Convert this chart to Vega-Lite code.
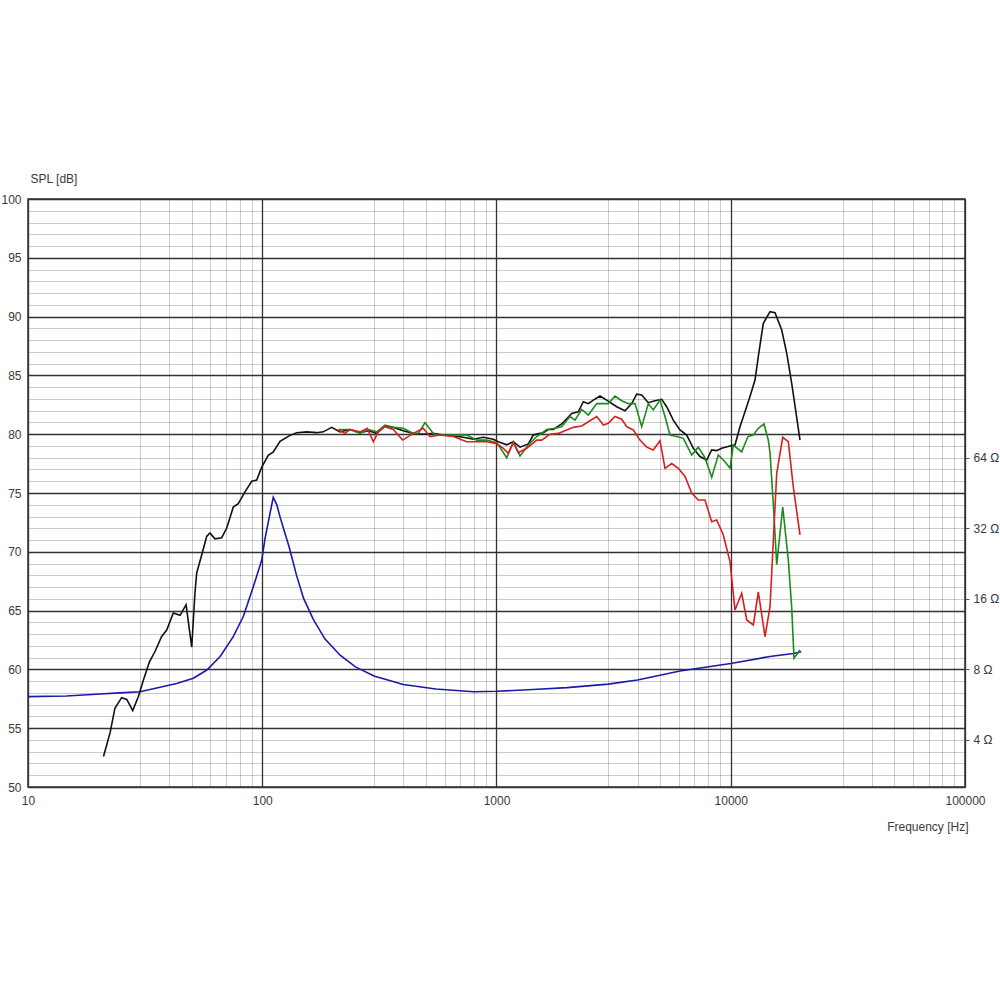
{
  "$schema": "https://vega.github.io/schema/vega-lite/v6.json",
  "autosize": {"type": "none"},
  "padding": {"left": 28, "top": 199, "right": 35, "bottom": 213},
  "width": 937,
  "height": 588,
  "background": "white",
  "config": {
    "view": {"stroke": "#333333", "strokeWidth": 1.5},
    "axis": {"labelFont": "Liberation Sans", "labelFontSize": 12, "labelColor": "#3a3a3a", "titleFont": "Liberation Sans", "titleFontSize": 12, "titleFontWeight": "normal", "titleColor": "#3a3a3a"}
  },
  "datasets": {
    "spl": [
      {"s":"0°","f":21,"db":52.6},{"s":"0°","f":22.4,"db":54.6},{"s":"0°","f":23.5,"db":56.7},{"s":"0°","f":25.1,"db":57.6},{"s":"0°","f":26.4,"db":57.45},{"s":"0°","f":28,"db":56.5},{"s":"0°","f":29.6,"db":57.7},{"s":"0°","f":31.1,"db":59.1},{"s":"0°","f":33,"db":60.65},{"s":"0°","f":34.8,"db":61.5},{"s":"0°","f":37.2,"db":62.8},{"s":"0°","f":39.1,"db":63.35},{"s":"0°","f":41.7,"db":64.8},{"s":"0°","f":44.6,"db":64.6},{"s":"0°","f":47.3,"db":65.5},{"s":"0°","f":50,"db":61.9},{"s":"0°","f":51.6,"db":66.5},{"s":"0°","f":52.5,"db":68.2},{"s":"0°","f":55.1,"db":69.7},{"s":"0°","f":57.9,"db":71.3},{"s":"0°","f":59.8,"db":71.6},{"s":"0°","f":62.8,"db":71.1},{"s":"0°","f":67.1,"db":71.2},{"s":"0°","f":70.5,"db":72},{"s":"0°","f":75.2,"db":73.8},{"s":"0°","f":79,"db":74.1},{"s":"0°","f":84.4,"db":75.1},{"s":"0°","f":90.2,"db":76},{"s":"0°","f":94.7,"db":76.1},{"s":"0°","f":99.5,"db":77.2},{"s":"0°","f":106.1,"db":78.2},{"s":"0°","f":111.5,"db":78.5},{"s":"0°","f":119.1,"db":79.4},{"s":"0°","f":131.4,"db":79.9},{"s":"0°","f":140.3,"db":80.13},{"s":"0°","f":154.8,"db":80.2},{"s":"0°","f":170.8,"db":80.13},{"s":"0°","f":182.2,"db":80.2},{"s":"0°","f":197.9,"db":80.58},{"s":"0°","f":214.7,"db":80.2},{"s":"0°","f":236.9,"db":80.4},{"s":"0°","f":261.4,"db":80.13},{"s":"0°","f":283.6,"db":80.3},{"s":"0°","f":308,"db":80.07},{"s":"0°","f":334.2,"db":80.7},{"s":"0°","f":362.6,"db":80.58},{"s":"0°","f":400.1,"db":80.3},{"s":"0°","f":441.5,"db":80.07},{"s":"0°","f":487,"db":80},{"s":"0°","f":537.3,"db":80.07},{"s":"0°","f":592.9,"db":79.93},{"s":"0°","f":654.2,"db":79.85},{"s":"0°","f":721.8,"db":79.74},{"s":"0°","f":796.2,"db":79.57},{"s":"0°","f":878.5,"db":79.74},{"s":"0°","f":969,"db":79.57},{"s":"0°","f":1018,"db":79.36},{"s":"0°","f":1106,"db":79.1},{"s":"0°","f":1180,"db":79.36},{"s":"0°","f":1260,"db":78.9},{"s":"0°","f":1367,"db":79.17},{"s":"0°","f":1436,"db":79.93},{"s":"0°","f":1534,"db":80.07},{"s":"0°","f":1585,"db":80.13},{"s":"0°","f":1664,"db":80.4},{"s":"0°","f":1748,"db":80.4},{"s":"0°","f":1898,"db":80.87},{"s":"0°","f":2094,"db":81.77},{"s":"0°","f":2235,"db":81.9},{"s":"0°","f":2348,"db":82.76},{"s":"0°","f":2466,"db":82.6},{"s":"0°","f":2590,"db":82.9},{"s":"0°","f":2766,"db":83.25},{"s":"0°","f":2954,"db":82.9},{"s":"0°","f":3259,"db":82.34},{"s":"0°","f":3537,"db":82},{"s":"0°","f":3777,"db":82.6},{"s":"0°","f":3967,"db":83.4},{"s":"0°","f":4168,"db":83.33},{"s":"0°","f":4446,"db":82.68},{"s":"0°","f":4750,"db":82.85},{"s":"0°","f":5073,"db":82.97},{"s":"0°","f":5327,"db":82.34},{"s":"0°","f":5684,"db":81.2},{"s":"0°","f":6071,"db":80.36},{"s":"0°","f":6484,"db":79.93},{"s":"0°","f":6921,"db":78.8},{"s":"0°","f":7391,"db":78.1},{"s":"0°","f":7895,"db":77.8},{"s":"0°","f":8291,"db":78.66},{"s":"0°","f":8709,"db":78.6},{"s":"0°","f":9147,"db":78.8},{"s":"0°","f":9926,"db":79},{"s":"0°","f":10426,"db":79.08},{"s":"0°","f":10951,"db":80.64},{"s":"0°","f":11502,"db":81.9},{"s":"0°","f":12082,"db":83.2},{"s":"0°","f":12690,"db":84.6},{"s":"0°","f":13110,"db":86.6},{"s":"0°","f":13772,"db":89.43},{"s":"0°","f":14712,"db":90.42},{"s":"0°","f":15452,"db":90.33},{"s":"0°","f":16504,"db":88.86},{"s":"0°","f":17339,"db":86.88},{"s":"0°","f":18207,"db":84.33},{"s":"0°","f":19754,"db":79.5},
      {"s":"30°","f":211.2,"db":80.4},{"s":"30°","f":236.9,"db":80.4},{"s":"30°","f":261.4,"db":80.07},{"s":"30°","f":283.6,"db":80.4},{"s":"30°","f":308,"db":80.2},{"s":"30°","f":334.2,"db":80.78},{"s":"30°","f":362.6,"db":80.58},{"s":"30°","f":400.1,"db":80.5},{"s":"30°","f":441.5,"db":80.07},{"s":"30°","f":463.7,"db":80.07},{"s":"30°","f":495,"db":80.98},{"s":"30°","f":537.3,"db":80.07},{"s":"30°","f":555.5,"db":79.93},{"s":"30°","f":613,"db":79.93},{"s":"30°","f":676,"db":79.93},{"s":"30°","f":746,"db":79.93},{"s":"30°","f":823,"db":79.5},{"s":"30°","f":908,"db":79.5},{"s":"30°","f":1002,"db":79.28},{"s":"30°","f":1106,"db":78},{"s":"30°","f":1180,"db":79.36},{"s":"30°","f":1260,"db":78.15},{"s":"30°","f":1367,"db":79.08},{"s":"30°","f":1485,"db":79.8},{"s":"30°","f":1638,"db":80.4},{"s":"30°","f":1777,"db":80.5},{"s":"30°","f":1898,"db":80.64},{"s":"30°","f":2060,"db":81.5},{"s":"30°","f":2163,"db":81.2},{"s":"30°","f":2310,"db":82.1},{"s":"30°","f":2466,"db":81.63},{"s":"30°","f":2679,"db":82.6},{"s":"30°","f":2861,"db":82.6},{"s":"30°","f":3001,"db":82.6},{"s":"30°","f":3205,"db":83.25},{"s":"30°","f":3423,"db":82.85},{"s":"30°","f":3654,"db":82.6},{"s":"30°","f":3903,"db":82.6},{"s":"30°","f":4168,"db":80.64},{"s":"30°","f":4446,"db":82.6},{"s":"30°","f":4670,"db":82.06},{"s":"30°","f":4989,"db":82.9},{"s":"30°","f":5240,"db":81.5},{"s":"30°","f":5505,"db":79.93},{"s":"30°","f":5879,"db":79.8},{"s":"30°","f":6275,"db":79.65},{"s":"30°","f":6813,"db":78.23},{"s":"30°","f":7269,"db":78.9},{"s":"30°","f":7762,"db":78},{"s":"30°","f":8291,"db":76.33},{"s":"30°","f":8850,"db":78.23},{"s":"30°","f":9452,"db":77.66},{"s":"30°","f":9926,"db":77.1},{"s":"30°","f":10253,"db":79.08},{"s":"30°","f":11136,"db":78.5},{"s":"30°","f":11840,"db":79.8},{"s":"30°","f":12487,"db":79.93},{"s":"30°","f":13110,"db":80.5},{"s":"30°","f":13868,"db":80.87},{"s":"30°","f":14467,"db":79.5},{"s":"30°","f":14712,"db":78.4},{"s":"30°","f":15193,"db":74.1},{"s":"30°","f":15712,"db":68.9},{"s":"30°","f":16670,"db":73.8},{"s":"30°","f":17610,"db":69.3},{"s":"30°","f":18200,"db":65.33},{"s":"30°","f":18620,"db":60.95},{"s":"30°","f":19754,"db":61.65},
      {"s":"60°","f":211.2,"db":80.36},{"s":"60°","f":225.6,"db":80.07},{"s":"60°","f":236.9,"db":80.4},{"s":"60°","f":261.4,"db":80.2},{"s":"60°","f":280.8,"db":80.5},{"s":"60°","f":298,"db":79.36},{"s":"60°","f":313,"db":80.2},{"s":"60°","f":334.2,"db":80.64},{"s":"60°","f":362.6,"db":80.4},{"s":"60°","f":397.7,"db":79.5},{"s":"60°","f":441.5,"db":80.07},{"s":"60°","f":487,"db":80.5},{"s":"60°","f":520,"db":79.8},{"s":"60°","f":574,"db":79.93},{"s":"60°","f":654,"db":79.8},{"s":"60°","f":746,"db":79.36},{"s":"60°","f":823,"db":79.36},{"s":"60°","f":908,"db":79.36},{"s":"60°","f":1002,"db":79.2},{"s":"60°","f":1069,"db":78.8},{"s":"60°","f":1123,"db":78.37},{"s":"60°","f":1180,"db":79.28},{"s":"60°","f":1239,"db":78.43},{"s":"60°","f":1345,"db":78.8},{"s":"60°","f":1485,"db":79.5},{"s":"60°","f":1560,"db":79.5},{"s":"60°","f":1692,"db":80},{"s":"60°","f":1836,"db":80.07},{"s":"60°","f":1994,"db":80.36},{"s":"60°","f":2128,"db":80.58},{"s":"60°","f":2310,"db":80.7},{"s":"60°","f":2466,"db":81.06},{"s":"60°","f":2679,"db":81.5},{"s":"60°","f":2861,"db":80.78},{"s":"60°","f":3001,"db":80.92},{"s":"60°","f":3205,"db":81.5},{"s":"60°","f":3423,"db":81.27},{"s":"60°","f":3596,"db":80.64},{"s":"60°","f":3837,"db":80.36},{"s":"60°","f":4098,"db":79.5},{"s":"60°","f":4377,"db":78.9},{"s":"60°","f":4670,"db":78.66},{"s":"60°","f":4989,"db":79.45},{"s":"60°","f":5240,"db":77.1},{"s":"60°","f":5598,"db":77.5},{"s":"60°","f":5974,"db":77.1},{"s":"60°","f":6378,"db":76.4},{"s":"60°","f":6813,"db":75},{"s":"60°","f":7269,"db":74.4},{"s":"60°","f":7762,"db":74.4},{"s":"60°","f":8291,"db":72.56},{"s":"60°","f":8709,"db":72.7},{"s":"60°","f":9295,"db":71.43},{"s":"60°","f":9926,"db":69.16},{"s":"60°","f":10426,"db":65.05},{"s":"60°","f":11136,"db":66.47},{"s":"60°","f":11700,"db":64.2},{"s":"60°","f":12487,"db":63.78},{"s":"60°","f":13110,"db":66.6},{"s":"60°","f":14007,"db":62.78},{"s":"60°","f":14712,"db":65.33},{"s":"60°","f":15712,"db":76.67},{"s":"60°","f":16670,"db":79.74},{"s":"60°","f":17610,"db":79.36},{"s":"60°","f":18490,"db":75.53},{"s":"60°","f":19754,"db":71.43}
    ],
    "imp": [
      {"f":10,"ohm":6.12},{"f":14.6,"ohm":6.16},{"f":20.3,"ohm":6.28},{"f":24.7,"ohm":6.35},{"f":30.1,"ohm":6.42},{"f":36.6,"ohm":6.71},{"f":43.1,"ohm":6.96},{"f":50.8,"ohm":7.33},{"f":58,"ohm":7.95},{"f":66.1,"ohm":9.08},{"f":75.2,"ohm":11.03},{"f":83,"ohm":13.45},{"f":91.5,"ohm":17.96},{"f":99.5,"ohm":23.43},{"f":102.8,"ohm":29},{"f":107.2,"ohm":35.8},{"f":111.4,"ohm":43.4},{"f":115.4,"ohm":40.3},{"f":119.1,"ohm":35.8},{"f":125,"ohm":30.5},{"f":130,"ohm":26.8},{"f":140,"ohm":20.2},{"f":150,"ohm":16.1},{"f":165,"ohm":13.1},{"f":185,"ohm":10.8},{"f":215,"ohm":9.2},{"f":250,"ohm":8.2},{"f":300,"ohm":7.5},{"f":400,"ohm":6.9},{"f":550,"ohm":6.6},{"f":800,"ohm":6.42},{"f":1000,"ohm":6.45},{"f":1500,"ohm":6.58},{"f":2000,"ohm":6.69},{"f":3000,"ohm":6.92},{"f":4000,"ohm":7.21},{"f":6070,"ohm":7.87},{"f":10000,"ohm":8.48},{"f":14700,"ohm":9.08},{"f":18500,"ohm":9.35},{"f":20000,"ohm":9.51}
    ]
  },
  "layer": [
    {
      "data": {"name": "imp"},
      "mark": {"type": "line", "color": "#1a1aa8", "strokeWidth": 1.6, "clip": true},
      "encoding": {
        "x": {"field": "f", "type": "quantitative", "scale": {"type": "log", "domain": [10, 100000], "nice": false},
          "axis": {"title": "Frequency [Hz]", "titleAngle": 0, "titleAlign": "right", "titleBaseline": "middle", "titleX": 940, "titleY": 39,
            "values": [10,30,40,50,60,70,80,90,100,300,400,500,600,700,800,900,1000,3000,4000,5000,6000,7000,8000,9000,10000,30000,40000,50000,60000,70000,80000,90000,100000],
            "labelExpr": "(datum.value == 10 || datum.value == 100 || datum.value == 1000 || datum.value == 10000 || datum.value == 100000) ? format(datum.value, 'd') : ''",
            "labelOverlap": false, "labelFlush": false, "labelPadding": 8, "ticks": false, "domain": false,
            "grid": true,
            "gridColor": {"condition": {"test": "datum.value == 10 || datum.value == 100 || datum.value == 1000 || datum.value == 10000 || datum.value == 100000", "value": "#333333"}, "value": "#000000"},
            "gridOpacity": {"condition": {"test": "datum.value == 10 || datum.value == 100 || datum.value == 1000 || datum.value == 10000 || datum.value == 100000", "value": 1}, "value": 0.2},
            "gridWidth": {"condition": {"test": "datum.value == 10 || datum.value == 100 || datum.value == 1000 || datum.value == 10000 || datum.value == 100000", "value": 1.3}, "value": 1}
          }
        },
        "y": {"field": "ohm", "type": "quantitative", "scale": {"type": "log", "base": 2, "domain": [2.51984, 812.75], "nice": false, "zero": false},
          "axis": {"orient": "right", "title": null, "values": [4, 8, 16, 32, 64], "labelExpr": "datum.value + ' Ω'", "grid": false, "domain": false, "ticks": true, "tickSize": 4, "tickColor": "#555555", "labelPadding": 4}
        }
      }
    },
    {
      "data": {"name": "spl"},
      "mark": {"type": "line", "strokeWidth": 1.6, "clip": true},
      "encoding": {
        "x": {"field": "f", "type": "quantitative", "scale": {"type": "log", "domain": [10, 100000], "nice": false}},
        "y": {"field": "db", "type": "quantitative", "scale": {"domain": [50, 100], "nice": false, "zero": false},
          "axis": {"orient": "left", "title": "SPL [dB]", "titleAngle": 0, "titleAlign": "left", "titleBaseline": "middle", "titleX": 2, "titleY": -21,
            "values": [50,51,52,53,54,55,56,57,58,59,60,61,62,63,64,65,66,67,68,69,70,71,72,73,74,75,76,77,78,79,80,81,82,83,84,85,86,87,88,89,90,91,92,93,94,95,96,97,98,99,100],
            "labelExpr": "datum.value % 5 == 0 ? datum.label : ''",
            "labelOverlap": false, "labelPadding": 7, "ticks": false, "domain": false, "grid": true,
            "gridColor": {"condition": {"test": "datum.value % 5 == 0", "value": "#333333"}, "value": "#000000"},
            "gridOpacity": {"condition": {"test": "datum.value % 5 == 0", "value": 1}, "value": 0.2},
            "gridWidth": {"condition": {"test": "datum.value % 5 == 0", "value": 1.3}, "value": 1}
          }
        },
        "color": {"field": "s", "type": "nominal", "scale": {"domain": ["60°", "30°", "0°"], "range": ["#d81e1e", "#1e8a1e", "#111111"]}, "legend": null},
        "order": {"field": "f", "type": "quantitative"}
      }
    }
  ],
  "resolve": {"scale": {"y": "independent"}, "axis": {"y": "independent"}}
}
